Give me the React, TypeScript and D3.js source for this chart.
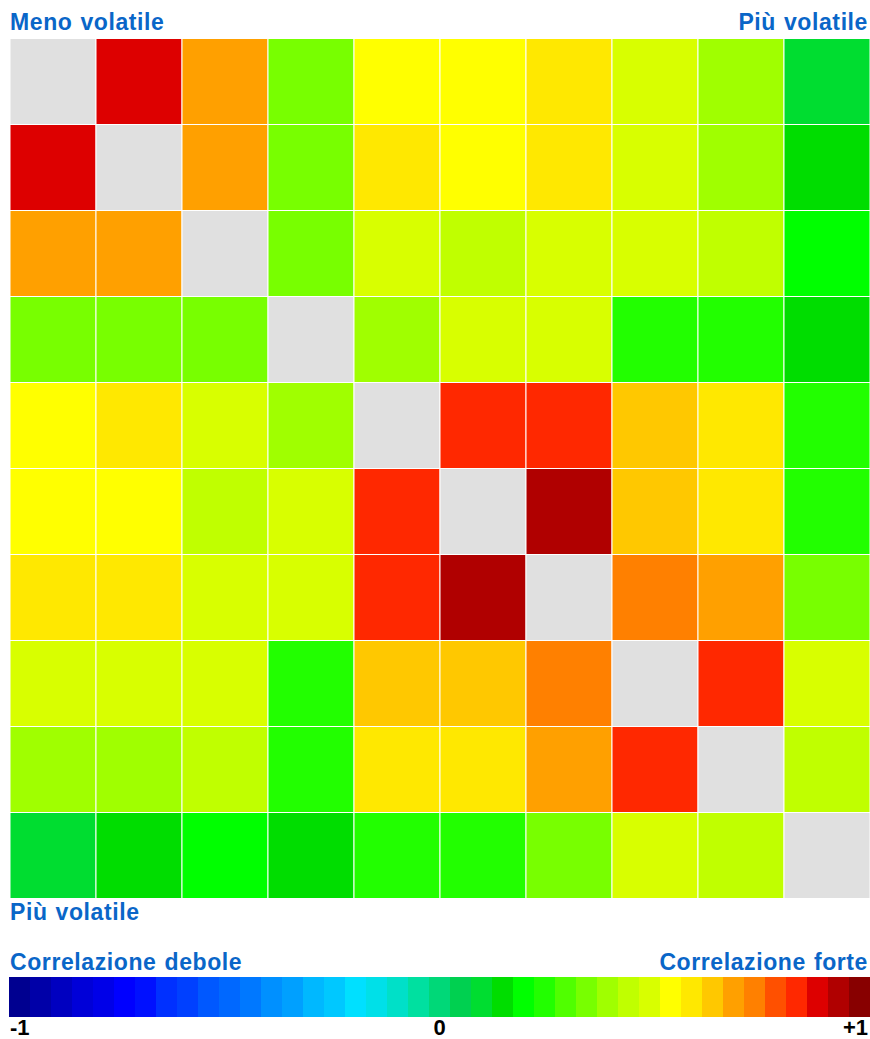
import React from "react";
import * as d3 from "d3";

// Palette of the colour bar, from -1 (left) to +1 (right), 41 steps
const palette = [
  "#000090", "#0000a8", "#0000c0", "#0000d8", "#0000e8", "#0000ff", "#0010ff", "#0030ff", "#0040ff", "#0058ff",
  "#0068ff", "#0078ff", "#0090ff", "#00a0ff", "#00b8ff", "#00c8ff", "#00e0ff", "#00e0e8", "#00e0c8", "#00e0a0",
  "#00d878", "#00d050", "#00dd30", "#00dd00", "#00ff00", "#22ff00", "#50ff00", "#78ff00", "#a0ff00", "#c0ff00",
  "#d8ff00", "#ffff00", "#ffe800", "#ffc800", "#ffa000", "#ff8000", "#ff5000", "#ff2800", "#dd0000", "#b00000",
  "#880000",
];

const assets = ["A1", "A2", "A3", "A4", "A5", "A6", "A7", "A8", "A9", "A10"];

// Correlation matrix (null on the diagonal)
const row0 = [null, 0.88, 0.68, 0.34, 0.54, 0.54, 0.59, 0.49, 0.39, 0.10];
const row1 = [0.88, null, 0.68, 0.34, 0.59, 0.54, 0.59, 0.49, 0.39, 0.15];
const row2 = [0.68, 0.68, null, 0.34, 0.49, 0.44, 0.49, 0.49, 0.44, 0.20];
const row3 = [0.34, 0.34, 0.34, null, 0.39, 0.49, 0.49, 0.25, 0.25, 0.15];
const row4 = [0.54, 0.59, 0.49, 0.39, null, 0.83, 0.83, 0.63, 0.59, 0.25];
const row5 = [0.54, 0.54, 0.44, 0.49, 0.83, null, 0.93, 0.63, 0.59, 0.25];
const row6 = [0.59, 0.59, 0.49, 0.49, 0.83, 0.93, null, 0.73, 0.68, 0.34];
const row7 = [0.49, 0.49, 0.49, 0.25, 0.63, 0.63, 0.73, null, 0.83, 0.49];
const row8 = [0.39, 0.39, 0.44, 0.25, 0.59, 0.59, 0.68, 0.83, null, 0.44];
const row9 = [0.10, 0.15, 0.20, 0.15, 0.25, 0.25, 0.34, 0.49, 0.44, null];
const matrix = [row0, row1, row2, row3, row4, row5, row6, row7, row8, row9];

const topLeftLabel = "Meno volatile";
const topRightLabel = "Più volatile";
const bottomLeftLabel = "Più volatile";
const legendLeftLabel = "Correlazione debole";
const legendRightLabel = "Correlazione forte";
const legendTicks = ["-1", "0", "+1"];

const W = 870;
const H = 1039;
const BLUE = "#0a66c8";
const FONT = "'Liberation Sans', Arial, Helvetica, sans-serif";

export default function App() {
  const gridLeft = 10;
  const gridTop = 38.5;
  const gridSize = 860;

  const x = d3.scaleBand<string>().domain(assets).range([gridLeft, gridLeft + gridSize]);
  const y = d3.scaleBand<string>().domain(assets).range([gridTop, gridTop + gridSize]);
  const color = d3.scaleQuantize<string>().domain([-1, 1]).range(palette);

  const barIdx = palette.map((_, i) => i);
  const bx = d3.scaleBand<number>().domain(barIdx).range([9, 870]);
  const barTop = 977;
  const barH = 40;
  const tickX = d3.scaleLinear().domain([-1, 1]).range([9, 870]);

  const textStyle: React.CSSProperties = {
    fontFamily: FONT,
    fontWeight: 700,
    fontSize: 23,
    letterSpacing: "0.6px",
    wordSpacing: "1px",
  };
  const tickStyle: React.CSSProperties = { ...textStyle, fontSize: 22, letterSpacing: "0px" };

  return (
    <svg width={W} height={H} style={{ position: "absolute", left: 0, top: 0, background: "#fff" }}>
      <rect x={0} y={0} width={W} height={H} fill="#fff" />
      {matrix.map((row, r) =>
        row.map((v, c) => (
          <rect
            key={`${r}-${c}`}
            x={x(assets[c])}
            y={y(assets[r])}
            width={x.bandwidth()}
            height={y.bandwidth()}
            fill={v === null ? "#e0e0e0" : color(v)}
            stroke="#ffffff"
            strokeWidth={1}
          />
        ))
      )}
      <text x={10} y={30} fill={BLUE} style={textStyle}>{topLeftLabel}</text>
      <text x={868} y={30} fill={BLUE} textAnchor="end" style={textStyle}>{topRightLabel}</text>
      <text x={10} y={920} fill={BLUE} style={textStyle}>{bottomLeftLabel}</text>
      <text x={10} y={970} fill={BLUE} style={textStyle}>{legendLeftLabel}</text>
      <text x={868} y={970} fill={BLUE} textAnchor="end" style={textStyle}>{legendRightLabel}</text>
      {barIdx.map((i) => (
        <rect key={i} x={bx(i)} y={barTop} width={bx.bandwidth() + 0.5} height={barH} fill={palette[i]} />
      ))}
      <text x={10} y={1035} fill="#000" style={tickStyle}>{legendTicks[0]}</text>
      <text x={tickX(0)} y={1035} fill="#000" textAnchor="middle" style={tickStyle}>{legendTicks[1]}</text>
      <text x={868} y={1035} fill="#000" textAnchor="end" style={tickStyle}>{legendTicks[2]}</text>
    </svg>
  );
}
